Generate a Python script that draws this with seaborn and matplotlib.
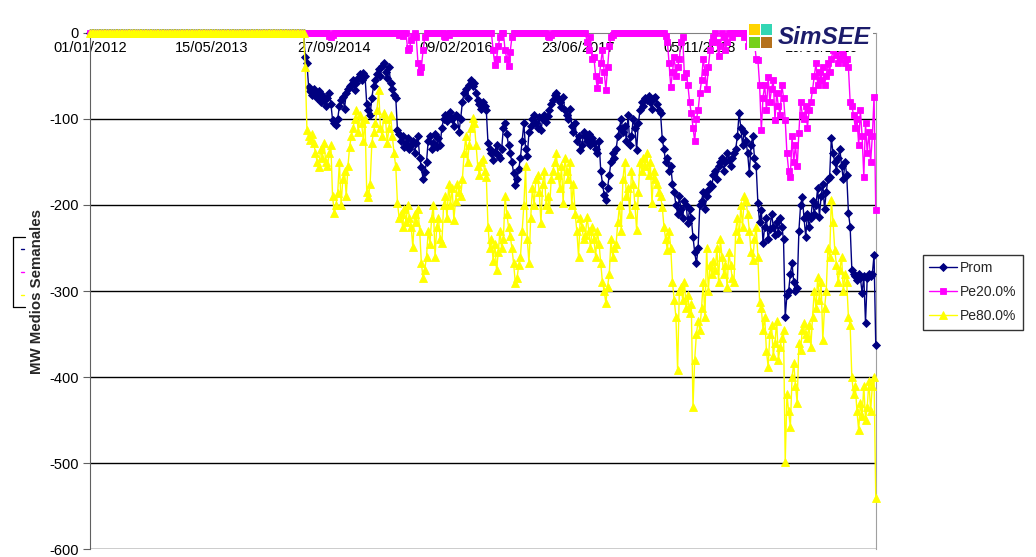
import numpy as np
import pandas as pd
import matplotlib
matplotlib.use("Agg")
import matplotlib.pyplot as plt
from matplotlib.lines import Line2D
from matplotlib.patches import Rectangle
import seaborn as sns

# ---------------------------------------------------------------- data
start_date = "2012-01-01"          # first weekly value
flat_weeks = 126                   # weeks at 0 before the deficit appears

prom_values = (
    [-28, -35, -63, -68, -72, -65]
    + [-70, -75, -68, -80, -72, -78, -85, -76, -70, -82]
    + [-101, -105, -107, -100]
    + [-85, -78, -74, -88, -70, -65]
    + [-62, -60, -55, -66, -58, -52, -48, -55, -47, -50]
    + [-82, -90, -95]
    + [-75, -62, -55, -48, -42, -50, -38, -35, -45, -52, -40, -58]
    + [-65, -72, -75]
    + [-113, -118, -125, -120, -132, -128, -122, -135, -130, -125, -140, -128, -120, -145]
    + [-156, -170, -162, -150]
    + [-125, -120, -135, -128, -118, -132, -122, -130]
    + [-110, -100, -95, -102, -97, -92, -100, -108, -95, -97, -115, -100]
    + [-80, -70, -65, -75, -60, -55, -62, -58, -70]
    + [-78, -82, -88, -80, -85, -90]
    + [-128, -135, -140, -148, -138, -130, -142, -145, -135, -110, -105, -118, -130, -140]
    + [-150, -163, -177, -170, -158, -145]
    + [-125, -105, -135, -143, -115, -108]
    + [-100, -95, -105, -110, -98, -113, -100, -95, -103, -97, -90]
    + [-82, -78, -72, -70, -76, -80, -86, -74]
    + [-90, -95, -100, -88, -108, -115, -105, -125, -120, -136, -130, -115, -120]
    + [-125, -118, -130, -122, -128, -135, -140, -125]
    + [-160, -175, -188, -194, -180, -165]
    + [-150, -140, -145, -135, -120, -110, -100]
    + [-115, -108, -125, -95, -130, -120, -100, -110, -136, -105]
    + [-90, -80, -85, -75, -78, -73, -80, -88, -76, -74, -82, -90, -93]
    + [-123, -135, -150, -145, -160, -155]
    + [-175, -185, -200, -210, -190, -205, -215, -195, -200, -221, -205, -215]
    + [-237, -255, -268, -250]
    + [-200, -195, -185, -205, -190, -183, -175, -178]
    + [-165, -160, -170, -155, -150, -145, -160, -150, -140, -148, -155, -145, -140]
    + [-135, -120, -93, -110, -130]
    + [-115, -125, -140, -163, -130, -120, -145, -155]
    + [-198, -220]
    + [-206, -244, -225, -215, -240, -228, -210, -225, -235, -220, -232, -215, -225, -240]
    + [-330]
    + [-305, -300, -280, -268, -290, -300, -297]
    + [-230, -200, -191, -215, -237, -210, -225, -215]
    + [-195, -210, -200, -180, -214, -190, -175, -205, -185, -170, -167]
    + [-122, -140]
    + [-150, -160, -145, -135, -155, -170, -150, -165]
    + [-209, -225]
    + [-275, -280, -283, -287, -280, -285, -302, -283, -337, -285, -280, -282]
    + [-280, -258, -363]
)

pe20_values = (
    [0] * 14 + [-3, -5, -2] + [0] * 37
    + [0, -2, 0, -3, 0, 0]
    + [-20, -18, -8]
    + [-3, 0, -5]
    + [-35, -45, -40, -20, -5]
    + [0] * 10 + [-3, -5, 0, -2] + [0] * 25
    + [-20, -37, -30, -15, -5, 0]
    + [0, -20, -30, -38, -22, -5]
    + [0] * 20 + [-3, -5, -2] + [0] * 20
    + [-10, -20, -5]
    + [-30, -28, -50, -64, -55, -35, -20, -45, -66, -40, -15]
    + [-5, -2] + [0] * 30 + [-3, -10]
    + [-35, -63, -45, -28, -50, -40, -30]
    + [-10, -5, -51, -47, -60, -80, -93]
    + [-110, -126, -100, -90]
    + [-70, -55, -30, -45, -65, -40, -20, -10]
    + [-5, 0, -10, -27, -15, 0, -5, -20, -10, 0, 0, -5, 0]
    + [0, 0, 0, 0, 0]
    + [-5, 0, -15, -10, -5, 0, -10, -30]
    + [-31, -60]
    + [-113, -75, -60, -90, -51, -80, -65, -55, -101, -70, -85, -95, -60, -75]
    + [-101]
    + [-140, -160, -167, -120, -150, -130, -155]
    + [-116, -80, -95, -100, -85, -110, -90, -80]
    + [-66, -50, -35, -60, -45, -55, -40, -60, -50, -35, -45]
    + [-30, -20, -16, -25, -35, -30, -20, -25, -35, -30]
    + [-40, -80]
    + [-85, -95, -110, -100, -130, -90, -120, -167, -105, -140, -115, -150]
    + [-120, -74, -206]
)

pe80_values = (
    [-40]
    + [-113, -120, -124, -118, -128]
    + [-140, -150, -156, -135, -145, -128, -150, -155, -140, -130]
    + [-190, -209, -200, -186]
    + [-150, -200, -170, -160, -190, -155]
    + [-132, -120, -110, -100, -90, -115, -95, -105, -125, -100]
    + [-185, -191, -175]
    + [-128, -115, -105, -90, -66, -110, -120, -93, -100, -128, -110, -95]
    + [-120, -140, -155]
    + [-198, -215, -210, -225, -205, -220, -200, -215, -225, -249, -210, -220, -205, -230]
    + [-268, -285, -275, -260]
    + [-230, -245, -215, -200, -260, -225, -215, -240]
    + [-244, -200, -190, -215, -175, -200, -180, -217, -195, -175, -185, -190]
    + [-170, -140, -120, -150, -130, -110, -99, -105, -130]
    + [-155, -165, -150, -147, -160, -167]
    + [-225, -250, -240, -265, -245, -276, -255, -230, -250, -240, -190, -210, -225, -236]
    + [-250, -268, -291, -285, -270, -260]
    + [-230, -200, -155, -240, -268, -215]
    + [-180, -200, -170, -165, -185, -221, -175, -160, -200, -190, -205]
    + [-170, -160, -150, -140, -165, -180, -155, -198]
    + [-145, -160, -170, -150, -200, -175, -210, -230, -260, -215, -225, -240, -235]
    + [-214, -230, -250, -225, -240, -260, -230, -245]
    + [-268, -290, -300, -314, -295, -280]
    + [-240, -260, -250, -245, -220, -200, -230]
    + [-170, -150, -190, -180, -210, -160, -175, -200, -229, -185]
    + [-150, -160, -145, -155, -140, -165, -150, -198, -160, -170, -175, -185, -190]
    + [-202, -225, -240, -252, -230, -250]
    + [-290, -310, -330, -392, -300, -295, -310, -290, -320, -305, -326, -315]
    + [-435, -380, -350, -335]
    + [-345, -320, -290, -330, -250, -300, -270, -280]
    + [-265, -275, -250, -290, -240, -260, -280, -270, -295, -255, -270, -285, -290]
    + [-230, -215, -240, -200, -225]
    + [-190, -195, -210, -230, -255, -264, -240, -225]
    + [-260, -313]
    + [-320, -345, -330, -370, -388, -350, -340, -375, -360, -335, -380, -365, -355, -345]
    + [-499]
    + [-420, -440, -458, -400, -384, -410, -430]
    + [-360, -369, -345, -337, -350, -355, -340, -365]
    + [-330, -300, -320, -284, -310, -290, -357, -320, -300, -250, -260]
    + [-194, -220]
    + [-252, -270, -290, -275, -260, -300, -280, -290]
    + [-330, -340]
    + [-400, -420, -410, -440, -462, -430, -445, -410, -450, -435, -405, -440]
    + [-410, -400, -541]
)

series_names = ["Prom", "Pe20.0%", "Pe80.0%"]
tick_dates = ["2012-01-01", "2013-05-15", "2014-09-27", "2016-02-09",
              "2017-06-23", "2018-11-05", "2020-03-19"]
tick_labels = ["01/01/2012", "15/05/2013", "27/09/2014", "09/02/2016",
               "23/06/2017", "05/11/2018", "19/03/2020"]
y_ticks = [0, -100, -200, -300, -400, -500, -600]
y_label = "MW Medios Semanales"

assert len(prom_values) == len(pe20_values) == len(pe80_values)

# ---------------------------------------------------------------- frame
prom = [0] * flat_weeks + prom_values
pe20 = [0] * flat_weeks + pe20_values
pe80 = [0] * flat_weeks + pe80_values
dates = pd.date_range(start_date, periods=len(prom), freq="7D")

df = pd.DataFrame({"fecha": dates, series_names[0]: prom,
                   series_names[1]: pe20, series_names[2]: pe80})
long_df = df.melt(id_vars="fecha", var_name="serie", value_name="MW")

styles = {
    "Prom":    dict(color="#000080", marker="D", ms=3.8),
    "Pe20.0%": dict(color="#FF00FF", marker="s", ms=4.6),
    "Pe80.0%": dict(color="#FFFF00", marker="^", ms=5.4),
}

# ---------------------------------------------------------------- figure
W, H = 1036, 557
sns.set_style("white")
plt.rcParams["font.family"] = ["Liberation Sans", "DejaVu Sans"]


def fx(px):
    return px / W


def fy(py):
    return 1 - py / H


fig = plt.figure(figsize=(W / 100, H / 100), dpi=100)
fig.patch.set_facecolor("white")
ax = fig.add_axes([fx(90), fy(549), (876 - 90) / W, (549 - 33) / H])

for name in series_names:
    st = styles[name]
    sub = long_df[long_df["serie"] == name]
    sns.lineplot(data=sub, x="fecha", y="MW", ax=ax, label=name,
                 color=st["color"], marker=st["marker"], markersize=st["ms"],
                 markeredgecolor=st["color"], markeredgewidth=0.6,
                 linewidth=1.0, clip_on=False, zorder=3)

# axis ranges
x0 = pd.Timestamp(start_date)
ax.set_xlim(x0, x0 + pd.Timedelta(days=3221))
ax.set_ylim(-600, 0)

# horizontal reference lines
for v in y_ticks[1:]:
    ax.axhline(v, color="black", lw=1.0, zorder=1)

# date axis crossing at zero, labels underneath it
ax.spines["bottom"].set_position(("data", 0))
ax.spines["bottom"].set_color("#808080")
ax.spines["bottom"].set_zorder(2)
ax.spines["top"].set_visible(False)
ax.spines["left"].set_color("#606060")
ax.spines["right"].set_color("#a0a0a0")
ax.set_xticks(pd.to_datetime(tick_dates))
ax.set_xticklabels(tick_labels)
ax.tick_params(axis="x", direction="out", length=4, color="#808080",
               labelsize=10.5, pad=1.5, labelcolor="black")
ax.set_yticks(y_ticks)
ax.set_yticklabels([str(v) for v in y_ticks])
ax.tick_params(axis="y", direction="out", length=5, color="#606060",
               labelsize=10.5, pad=3, labelcolor="black", left=True)
ax.set_xlabel("")
ax.set_ylabel(y_label, fontsize=10.8, fontweight="bold")
ax.yaxis.set_label_coords(-0.058, 0.5)

# legend
leg = ax.legend(loc="upper left", bbox_to_anchor=(fx(923), fy(255)),
                bbox_transform=fig.transFigure, borderaxespad=0,
                frameon=True, fancybox=False, shadow=False, fontsize=10,
                handlelength=2.0, handletextpad=0.2, labelspacing=0.72,
                borderpad=0.45)
leg.get_frame().set_edgecolor("black")
leg.get_frame().set_linewidth(1.0)

# small series key next to the axis title
for (x_a, y_a), (x_b, y_b) in [((25, 237), (13, 237)), ((13, 237), (13, 307)),
                               ((13, 307), (25, 307))]:
    fig.add_artist(Line2D([fx(x_a), fx(x_b)], [fy(y_a), fy(y_b)],
                          color="black", lw=0.9))
for py, c in [(249, "#000080"), (272, "#FF00FF"), (295, "#FFFF00")]:
    fig.add_artist(Line2D([fx(21), fx(24)], [fy(py), fy(py)], color=c, lw=1))

# SimSEE badge
fig.add_artist(Rectangle((fx(747), fy(51)), fx(873) - fx(747), fy(18) - fy(51),
                         transform=fig.transFigure, facecolor="white",
                         edgecolor="none", zorder=10))
for (px, py), c in [((749, 35), "#FFD400"), ((761, 35), "#33D6B4"),
                    ((749, 48), "#76D01C"), ((761, 48), "#B5711C")]:
    fig.add_artist(Rectangle((fx(px), fy(py)), 11 / W, 11 / H,
                             transform=fig.transFigure, facecolor=c,
                             edgecolor="none", zorder=11))
fig.text(fx(778), fy(38), "SimSEE", fontsize=17.5, fontstyle="italic",
         fontweight="bold", color="#1C1C6B", ha="left", va="center",
         zorder=12)

fig.savefig("out.png", dpi=100)
